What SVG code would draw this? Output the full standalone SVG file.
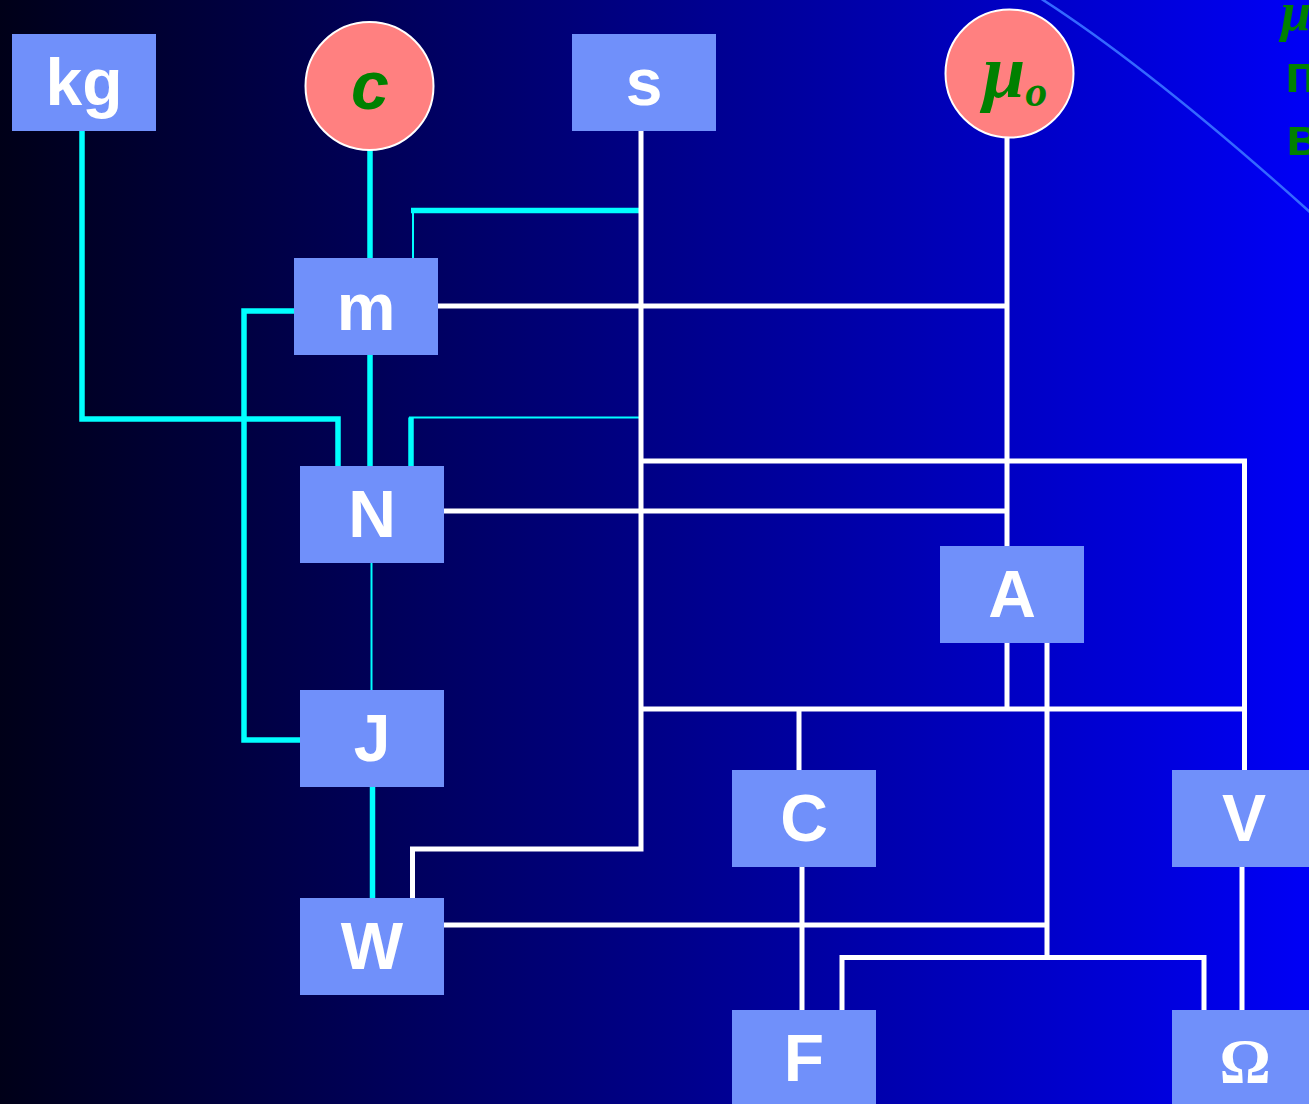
<svg xmlns="http://www.w3.org/2000/svg" width="1309" height="1104" viewBox="0 0 1309 1104">
  <defs>
    <linearGradient id="bg" x1="0" y1="0" x2="1" y2="0">
      <stop offset="0" stop-color="#000018"/>
      <stop offset="1" stop-color="#0000F6"/>
    </linearGradient>
    <style>
      .box { fill: #7090FA; }
      .lbl { fill: #FFFFFF; font-family: "Liberation Sans", Arial, sans-serif; font-weight: bold; font-size: 66px; text-anchor: middle; }
      .ball { fill: #FF8080; stroke: #FFFFFF; stroke-width: 2; }
      .const { fill: #008000; font-weight: bold; font-style: italic; }
      .wire { fill: none; stroke: #FFFFFF; stroke-width: 5; stroke-linejoin: miter; }
      .cy { fill: none; stroke: #00FFFF; stroke-width: 5.5; stroke-linejoin: miter; }
      .cy-thin { fill: none; stroke: #00FFFF; stroke-width: 2; }
      .note { fill: #008000; font-family: "Liberation Sans", Arial, sans-serif; font-weight: bold; font-size: 54px; }
    </style>
  </defs>

  <!-- background -->
  <rect x="0" y="0" width="1309" height="1104" fill="url(#bg)"/>
  <path d="M1040,-2 Q1151,69 1312,214" fill="none" stroke="#3468FF" stroke-width="2.5"/>

  <!-- side notes, running off the right edge -->
  <g id="notes">
    <text x="1281" y="30" class="const" font-family="'Liberation Serif', 'Times New Roman', serif" font-size="54">μ</text>
    <text x="1285" y="92" class="note">п</text>
    <text x="1286" y="155" class="note">в</text>
  </g>

  <!-- connectors -->
  <g id="connectors">
    <!-- cyan links -->
    <path class="cy" d="M82,131 V419 H338 V466"/>
    <path class="cy" d="M370,150 V258"/>
    <path class="cy" d="M370,355 V466"/>
    <path class="cy" d="M294,311 H244 V740 H300"/>
    <path class="cy" d="M411,210.5 H640"/>
    <path class="cy-thin" d="M413,210 V258"/>
    <path class="cy" d="M411,466 V417.5"/>
    <path class="cy-thin" d="M409,417.5 H640"/>
    <path class="cy-thin" d="M371.5,563 V690"/>
    <path class="cy" d="M372.5,787 V898"/>

    <!-- white links -->
    <path class="wire" d="M641,131 V849 H412.5 V898"/>
    <path class="wire" d="M438,306 H1007"/>
    <path class="wire" d="M1007,138 V546"/>
    <path class="wire" d="M444,511 H1007"/>
    <path class="wire" d="M641,461 H1244.5 V770"/>
    <path class="wire" d="M642,709 H1244"/>
    <path class="wire" d="M1007,643 V709"/>
    <path class="wire" d="M799,709 V770"/>
    <path class="wire" d="M1047,643 V957"/>
    <path class="wire" d="M444,925 H1047"/>
    <path class="wire" d="M842,1010 V957.5 H1204 V1010"/>
    <path class="wire" d="M802,867 V1010"/>
    <path class="wire" d="M1242,867 V1010"/>
  </g>

  <!-- nodes -->
  <g id="node-kg">
    <rect class="box" x="12" y="34" width="144" height="97"/>
    <text class="lbl" x="84" y="105">kg</text>
  </g>
  <g id="node-c">
    <circle class="ball" cx="369.5" cy="86" r="64"/>
    <text class="const" x="370" y="109" font-family="'Liberation Sans', Arial, sans-serif" font-size="68" text-anchor="middle">c</text>
  </g>
  <g id="node-s">
    <rect class="box" x="572" y="34" width="144" height="97"/>
    <text class="lbl" x="644" y="105">s</text>
  </g>
  <g id="node-mu0">
    <circle class="ball" cx="1009.5" cy="73.5" r="64"/>
    <text class="const" x="983" y="97" font-family="'Liberation Serif', 'Times New Roman', serif" font-size="76">μ<tspan font-size="44" dy="9">o</tspan></text>
  </g>
  <g id="node-m">
    <rect class="box" x="294" y="258" width="144" height="97"/>
    <text class="lbl" x="366" y="330">m</text>
  </g>
  <g id="node-N">
    <rect class="box" x="300" y="466" width="144" height="97"/>
    <text class="lbl" x="372" y="537">N</text>
  </g>
  <g id="node-A">
    <rect class="box" x="940" y="546" width="144" height="97"/>
    <text class="lbl" x="1012" y="617">A</text>
  </g>
  <g id="node-J">
    <rect class="box" x="300" y="690" width="144" height="97"/>
    <text class="lbl" x="372" y="761">J</text>
  </g>
  <g id="node-C">
    <rect class="box" x="732" y="770" width="144" height="97"/>
    <text class="lbl" x="804" y="841">C</text>
  </g>
  <g id="node-V">
    <rect class="box" x="1172" y="770" width="144" height="97"/>
    <text class="lbl" x="1244" y="841">V</text>
  </g>
  <g id="node-W">
    <rect class="box" x="300" y="898" width="144" height="97"/>
    <text class="lbl" x="372" y="969">W</text>
  </g>
  <g id="node-F">
    <rect class="box" x="732" y="1010" width="144" height="97"/>
    <text class="lbl" x="804" y="1081">F</text>
  </g>
  <g id="node-Omega">
    <rect class="box" x="1172" y="1010" width="144" height="97"/>
    <text x="1245" y="1083" fill="#FFFFFF" font-family="'Liberation Serif', 'Times New Roman', serif" font-weight="bold" font-size="64" text-anchor="middle">Ω</text>
  </g>
</svg>
